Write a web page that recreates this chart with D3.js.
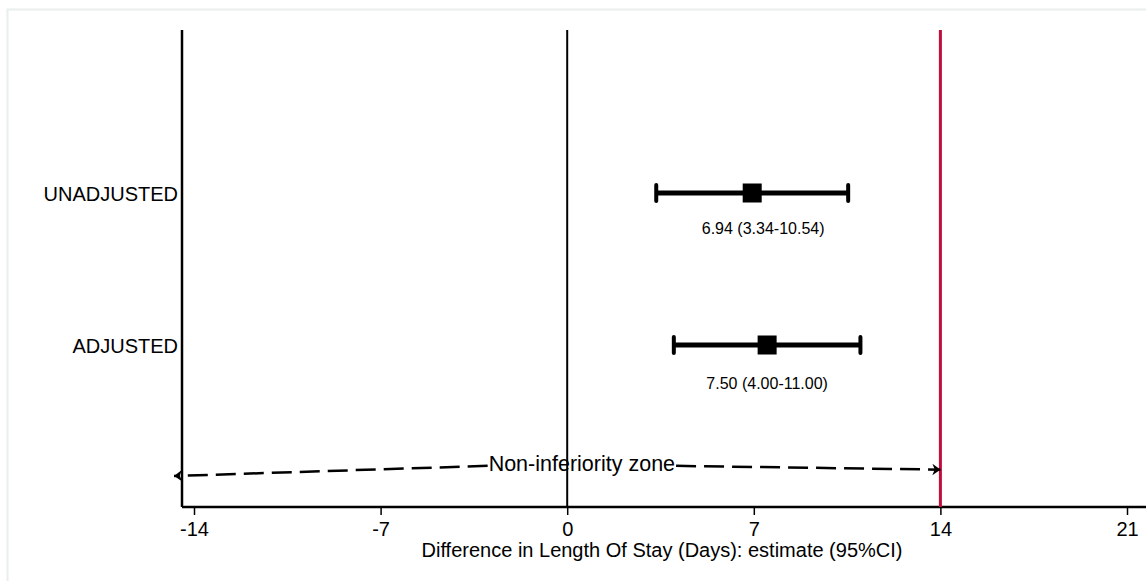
<!DOCTYPE html>
<html>
<head>
<meta charset="utf-8">
<script src="https://cdn.jsdelivr.net/npm/d3@7"></script>
<style>
  body { margin: 0; background: #fff; }
  text { font-family: "Liberation Sans", Arial, sans-serif; fill: #000; }
</style>
</head>
<body>
<div id="chart"></div>
<script>
// data
var groups = ["UNADJUSTED", "ADJUSTED"];
var rowPos = [1, 2];
var estimates = [6.94, 7.50];
var lowerCI = [3.34, 4.00];
var upperCI = [10.54, 11.00];
var estLabels = ["6.94 (3.34-10.54)", "7.50 (4.00-11.00)"];
var estLabelX = [7.35, 7.50];
var estLabelRow = [1.27, 2.29];
var xTicks = [-14, -7, 0, 7, 14, 21];
var niMargin = 14;
var zoneLabel = "Non-inferiority zone";
var zoneX = [-14.75, 0.55, 14];      // left arrow end, label centre, right arrow end
var zoneY = [2.862, 2.795, 2.82];

var W = 1146, H = 581;
var plotTop = 30, plotBottom = 507, plotLeft = 182;

var svg = d3.select("#chart")
    .append("svg")
    .attr("width", W)
    .attr("height", H);

// faint outer frame
svg.append("rect")
    .attr("x", 7.5).attr("y", 9.5)
    .attr("width", W).attr("height", H)
    .attr("fill", "none")
    .attr("stroke", "#e9eeee")
    .attr("stroke-width", 2);

var x = d3.scaleLinear()
    .domain([-14, 21])
    .range([194, 1127]);

var y = d3.scaleLinear()
    .domain([0, 3])
    .range([41, 497]);

// x axis
var xAxis = svg.append("g")
    .attr("transform", "translate(0," + plotBottom + ")")
    .call(d3.axisBottom(x).tickValues(xTicks).tickSize(8).tickPadding(7)
        .tickFormat(function(d) { return String(d); }));
xAxis.select(".domain").remove();
xAxis.append("line")
    .attr("x1", plotLeft).attr("x2", W)
    .attr("stroke", "#000").attr("stroke-width", 2.5);
xAxis.selectAll(".tick line").attr("stroke", "#000").attr("stroke-width", 1.5);
xAxis.selectAll(".tick text")
    .style("font-size", "20px")
    .style("font-family", "Liberation Sans, Arial, sans-serif")
    .attr("fill", "#000");

svg.append("text")
    .attr("x", 662)
    .attr("y", 557)
    .style("text-anchor", "middle")
    .style("font-size", "20px")
    .text("Difference in Length Of Stay (Days): estimate (95%CI)");

// y axis line
svg.append("line")
    .attr("x1", plotLeft).attr("x2", plotLeft)
    .attr("y1", plotTop).attr("y2", plotBottom)
    .attr("stroke", "#000").attr("stroke-width", 2.5);

// zero line
svg.append("line")
    .attr("x1", x(0)).attr("x2", x(0))
    .attr("y1", plotTop).attr("y2", plotBottom)
    .attr("stroke", "#000").attr("stroke-width", 2);

// non-inferiority margin
svg.append("line")
    .attr("x1", x(niMargin)).attr("x2", x(niMargin))
    .attr("y1", plotTop).attr("y2", plotBottom)
    .attr("stroke", "#c20c3c").attr("stroke-width", 3);

// group labels
svg.selectAll("groupLabels")
    .data(groups)
    .enter()
    .append("text")
    .attr("x", plotLeft - 4)
    .attr("y", function(d, i) { return y(rowPos[i]) + 7.5; })
    .style("text-anchor", "end")
    .style("font-size", "20px")
    .text(function(d) { return d; });

// CI bars
var rows = svg.selectAll("rows")
    .data(groups)
    .enter()
    .append("g");

rows.append("line")
    .attr("x1", function(d, i) { return x(lowerCI[i]); })
    .attr("x2", function(d, i) { return x(upperCI[i]); })
    .attr("y1", function(d, i) { return y(rowPos[i]); })
    .attr("y2", function(d, i) { return y(rowPos[i]); })
    .attr("stroke", "#000").attr("stroke-width", 5);

// whisker caps
[lowerCI, upperCI].forEach(function(arr) {
    rows.append("line")
        .attr("x1", function(d, i) { return x(arr[i]); })
        .attr("x2", function(d, i) { return x(arr[i]); })
        .attr("y1", function(d, i) { return y(rowPos[i]) - 8; })
        .attr("y2", function(d, i) { return y(rowPos[i]) + 8; })
        .attr("stroke", "#000").attr("stroke-width", 4)
        .attr("stroke-linecap", "round");
});

rows.append("rect")
    .attr("x", function(d, i) { return x(estimates[i]) - 9.5; })
    .attr("y", function(d, i) { return y(rowPos[i]) - 9.5; })
    .attr("width", 19).attr("height", 19)
    .attr("fill", "#000");

rows.append("text")
    .attr("x", function(d, i) { return x(estLabelX[i]); })
    .attr("y", function(d, i) { return y(estLabelRow[i]); })
    .style("text-anchor", "middle")
    .style("font-size", "16px")
    .text(function(d, i) { return estLabels[i]; });

// non-inferiority zone arrows
var defs = svg.append("defs");
defs.append("marker")
    .attr("id", "arrowHead")
    .attr("viewBox", "0 0 7 10")
    .attr("refX", 7).attr("refY", 5)
    .attr("markerWidth", 3.2).attr("markerHeight", 4.8)
    .attr("markerUnits", "strokeWidth")
    .attr("orient", "auto")
    .append("path")
    .attr("d", "M0,0 L7,5 L0,10 L2,5 Z")
    .attr("fill", "#000");

var zoneText = svg.append("text")
    .attr("x", x(zoneX[1]))
    .attr("y", y(zoneY[1]) + 5)
    .style("text-anchor", "middle")
    .style("font-size", "21.5px")
    .text(zoneLabel);

var tw = zoneText.node().getComputedTextLength();

svg.append("line")
    .attr("x1", x(zoneX[1]) - tw / 2 - 1).attr("y1", y(zoneY[1]))
    .attr("x2", x(zoneX[0])).attr("y2", y(zoneY[0]))
    .attr("stroke", "#000").attr("stroke-width", 2.5)
    .attr("stroke-dasharray", "20,8")
    .attr("marker-end", "url(#arrowHead)");

svg.append("line")
    .attr("x1", x(zoneX[1]) + tw / 2 + 1).attr("y1", y(zoneY[1]))
    .attr("x2", x(zoneX[2])).attr("y2", y(zoneY[2]))
    .attr("stroke", "#000").attr("stroke-width", 2.5)
    .attr("stroke-dasharray", "20,8")
    .attr("marker-end", "url(#arrowHead)");
</script>
</body>
</html>
